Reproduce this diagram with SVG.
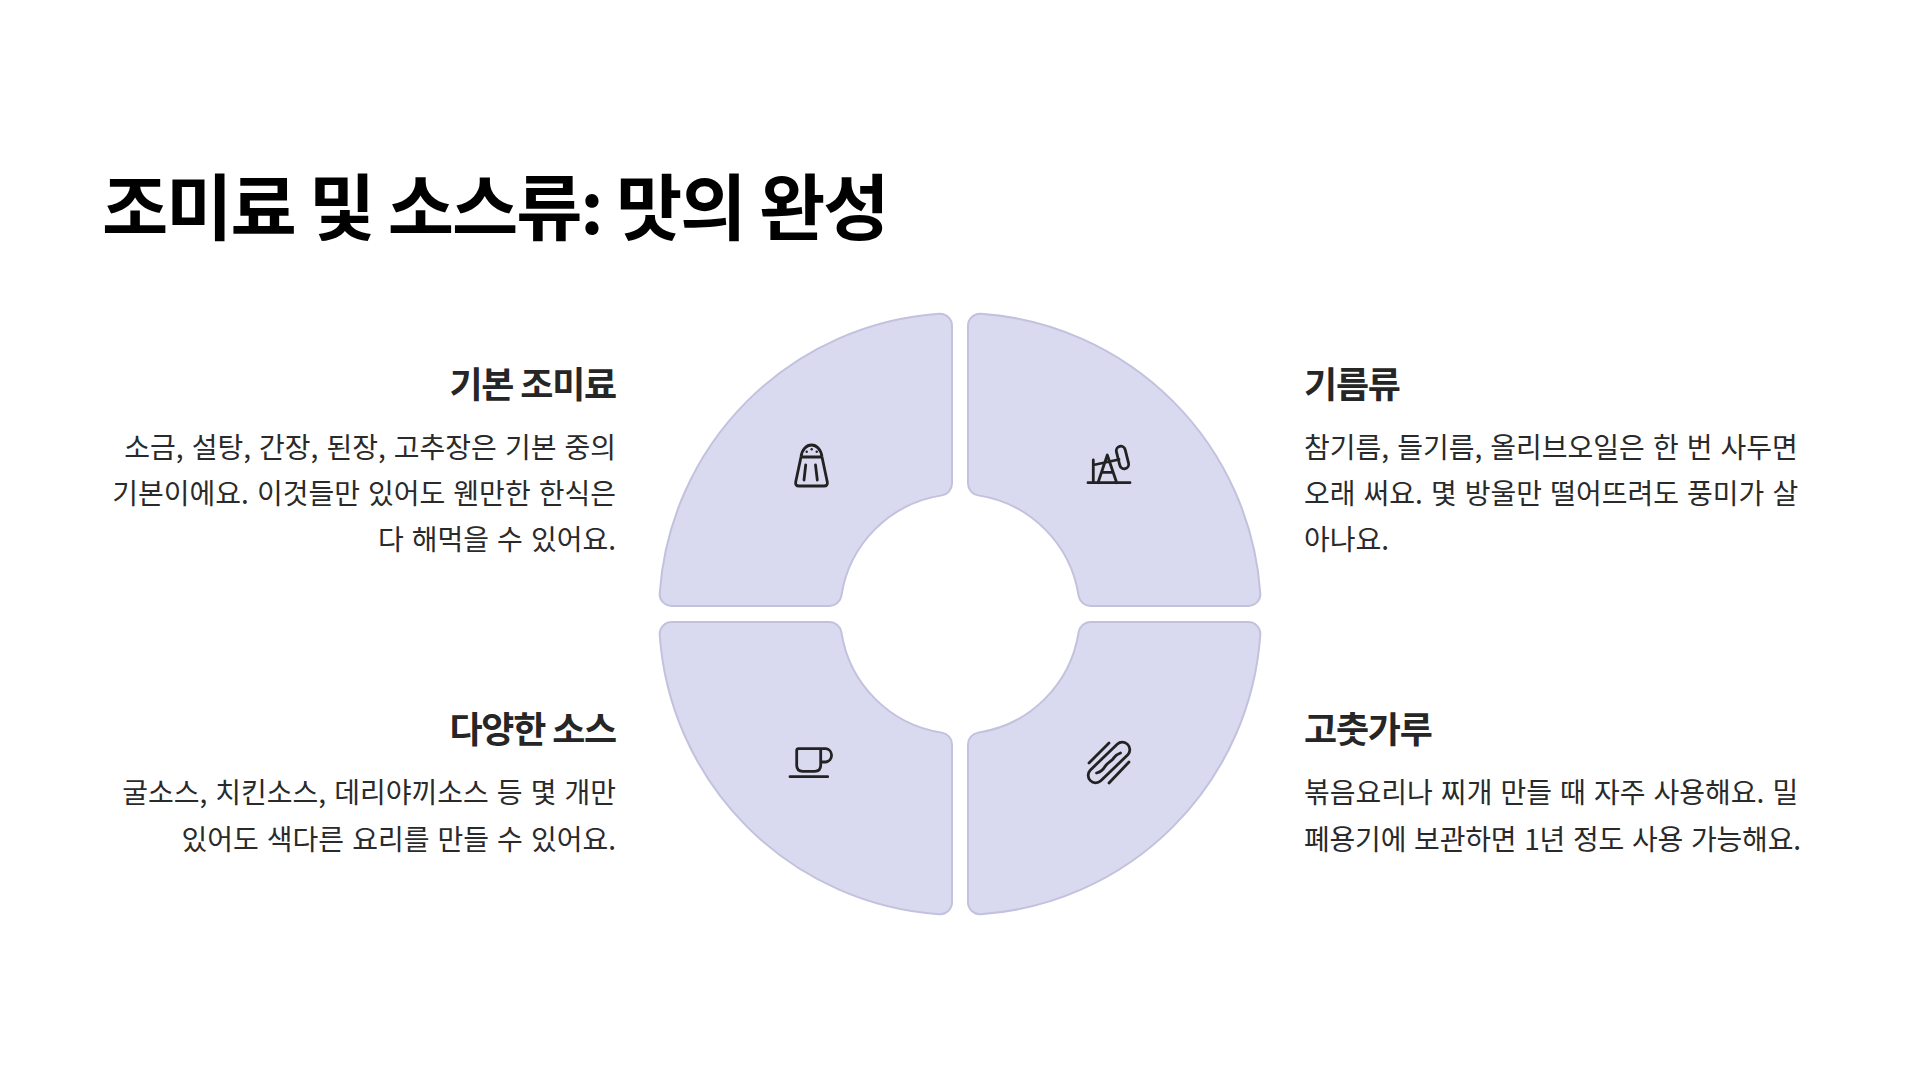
<svg xmlns="http://www.w3.org/2000/svg" width="1920" height="1080" viewBox="0 0 1920 1080">
<style>
text{font-family:"Noto Sans CJK KR","Noto Sans",sans-serif;}
.title{font-size:72px;font-weight:700;fill:#000;letter-spacing:-2px}
.h{font-size:36px;font-weight:700;fill:#262626;letter-spacing:-1.2px}
.b{font-size:28px;font-weight:400;fill:#2a2a2a;word-spacing:1.8px}
.r{text-anchor:end}
.seg{fill:#d9d9ef;stroke:#c2c2de;stroke-width:2}
.ic{fill:none;stroke:#222;stroke-width:2.8;stroke-linecap:round;stroke-linejoin:round}
.dot{fill:#222}
</style>
<defs>
<path id="q" d="M952,325.69L952,483.52A12,12 0 0 1 941.82,495.38A120,120 0 0 0 841.38,595.82A12,12 0 0 1 829.52,606L671.69,606A12,12 0 0 1 659.72,593.17A301,301 0 0 1 939.17,313.72A12,12 0 0 1 952,325.69Z"/>
</defs>
<rect width="1920" height="1080" fill="#fff"/>
<text id="title" class="title" x="102" y="234">조미료 및 소스류: 맛의 완성</text>
<g id="seg-tl"><use href="#q" class="seg"/>
<g class="ic"><path d="M799,486H824Q828,486 827.300,482L822,457C820,441 803,441 801,457L795.700,482Q795,486 799,486ZM801,457H822M805.700,465L804,480M815.500,465L817.300,480"/></g>
<circle class="dot" cx="806.700" cy="451.700" r="1.200"/><circle class="dot" cx="811.700" cy="449.300" r="1.200"/><circle class="dot" cx="816.700" cy="451.700" r="1.200"/>
</g>
<g id="seg-tr"><use href="#q" class="seg" transform="matrix(-1 0 0 1 1920 0)"/>
<g class="ic"><path d="M1088,482.700H1130M1093.300,482.700V460M1093.300,465L1119,459.500M1098,482.700L1107.300,455L1116.700,482.700M1102.300,472.300H1112.300"/><rect x="1118" y="446" width="9" height="23" rx="4.500" transform="rotate(-14 1122.500 457.500)"/></g>
</g>
<g id="seg-bl"><use href="#q" class="seg" transform="matrix(1 0 0 -1 0 1228)"/>
<g class="ic"><path d="M798.700,748.700H820.700V765.300Q820.700,771.300 814.700,771.300H802.700Q796.700,771.300 796.700,765.300V750.700Q796.700,748.700 798.700,748.700ZM820.700,748.700H825.700A6.700,6.700 0 0 1 825.700,762H820.700M790,776.700H827.700"/></g>
</g>
<g id="seg-br"><use href="#q" class="seg" transform="matrix(-1 0 0 -1 1920 1228)"/>
<g class="ic"><path d="M1117.200,744.200A7.500,7.500 0 0 1 1127.800,754.800L1100.800,780.800A7.500,7.500 0 0 1 1090.200,770.200ZM1089,763L1109,743M1109,783L1129,762M1096.500,773C1101,772 1103,770 1105,766.500C1107,763 1110,762 1112.300,759.700C1114.500,757.500 1114.500,755 1120.500,753"/></g>
</g>
<g id="text-tl">
<text class="h r" x="616" y="398">기본 조미료</text>
<text class="b r" x="616" y="458">소금, 설탕, 간장, 된장, 고추장은 기본 중의</text>
<text class="b r" x="616" y="504">기본이에요. 이것들만 있어도 웬만한 한식은</text>
<text class="b r" x="616" y="550">다 해먹을 수 있어요.</text>
</g>
<g id="text-tr">
<text class="h" x="1304" y="398">기름류</text>
<text class="b" x="1304" y="458">참기름, 들기름, 올리브오일은 한 번 사두면</text>
<text class="b" x="1304" y="504">오래 써요. 몇 방울만 떨어뜨려도 풍미가 살</text>
<text class="b" x="1304" y="550">아나요.</text>
</g>
<g id="text-bl">
<text class="h r" x="616" y="743">다양한 소스</text>
<text class="b r" x="616" y="803">굴소스, 치킨소스, 데리야끼소스 등 몇 개만</text>
<text class="b r" x="616" y="850">있어도 색다른 요리를 만들 수 있어요.</text>
</g>
<g id="text-br">
<text class="h" x="1304" y="743">고춧가루</text>
<text class="b" x="1304" y="803">볶음요리나 찌개 만들 때 자주 사용해요. 밀</text>
<text class="b" x="1304" y="850" style="letter-spacing:-0.2px">폐용기에 보관하면 1년 정도 사용 가능해요.</text>
</g>
</svg>
